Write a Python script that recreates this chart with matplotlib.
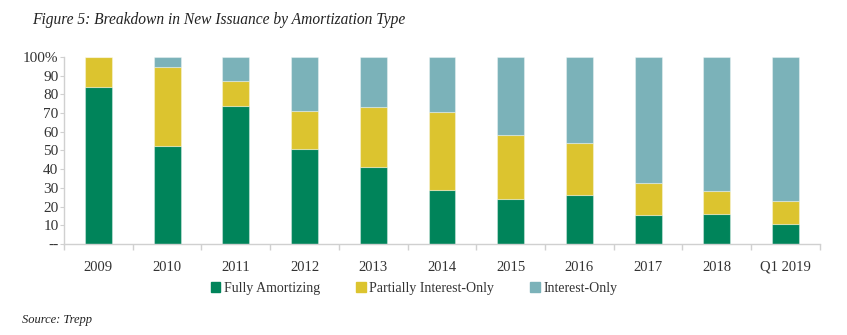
import numpy as np
import matplotlib.pyplot as plt
from matplotlib.patches import Patch

plt.rcParams['font.family'] = ['Liberation Serif', 'DejaVu Serif']

# Share of new issuance by amortization type (%)
periods = ['2009', '2010', '2011', '2012', '2013', '2014', '2015', '2016', '2017', '2018', 'Q1 2019']
fully_amort = [84.1, 52.4, 74.0, 50.6, 41.4, 28.7, 24.2, 26.0, 15.3, 16.2, 10.9]
partial_io = [15.9, 42.2, 13.2, 20.5, 31.9, 42.1, 34.1, 28.0, 17.1, 12.1, 11.9]
interest_only = [0.0, 5.4, 12.8, 28.9, 26.7, 29.2, 41.7, 46.0, 67.6, 71.7, 77.2]

c_green = '#00845a'
c_yellow = '#dcc42f'
c_teal = '#7bb2b9'

fig = plt.figure(figsize=(8.47, 3.35), dpi=100)
ax = fig.add_axes([0.0756, 0.2716, 0.8924, 0.5584])

x = np.arange(len(periods))
w = 0.39
edge = dict(edgecolor=(1, 1, 1, 0.35), linewidth=0.8)
ax.bar(x, fully_amort, w, color=c_green, **edge)
ax.bar(x, partial_io, w, bottom=fully_amort, color=c_yellow, **edge)
bot = np.array(fully_amort) + np.array(partial_io)
ax.bar(x, interest_only, w, bottom=bot, color=c_teal, **edge)

ax.set_xlim(-0.5, len(periods) - 0.5)
ax.set_ylim(0, 100)
ax.set_yticks(np.arange(0, 101, 10))
ax.set_yticklabels(['--'] + [str(v) for v in range(10, 100, 10)] + ['100%'])
ax.set_xticks(x)
ax.set_xticklabels(periods)
ax.set_xticks(np.arange(-0.5, len(periods)), minor=True)
ax.tick_params(axis='x', which='major', length=0, pad=12, labelsize=10.5, colors='#333333')
ax.tick_params(axis='x', which='minor', length=4, color='#d0d0d0', width=1)
ax.tick_params(axis='y', length=3, color='#d0d0d0', labelsize=11, colors='#333333', pad=1)
ax.tick_params(axis='y', color='#d0d0d0')
for s in ['top', 'right']:
    ax.spines[s].set_visible(False)
for s in ['left', 'bottom']:
    ax.spines[s].set_color('#d0d0d0')
    ax.spines[s].set_linewidth(1)

handles = [Patch(color=c_green, label='Fully Amortizing'),
           Patch(color=c_yellow, label='Partially Interest-Only'),
           Patch(color=c_teal, label='Interest-Only')]
fig.legend(handles=handles, loc='center', bbox_to_anchor=(0.489, 0.14), ncol=3,
           frameon=False, fontsize=10, handlelength=0.7, handleheight=0.7,
           handletextpad=0.25, columnspacing=2.6, labelcolor='#333333')

fig.text(0.038, 0.94, 'Figure 5: Breakdown in New Issuance by Amortization Type',
         style='italic', fontsize=11.2, color='#222222', va='center')
fig.text(0.026, 0.045, 'Source: Trepp', style='italic', fontsize=9, color='#222222', va='center')

fig.savefig('out.png', dpi=100)
